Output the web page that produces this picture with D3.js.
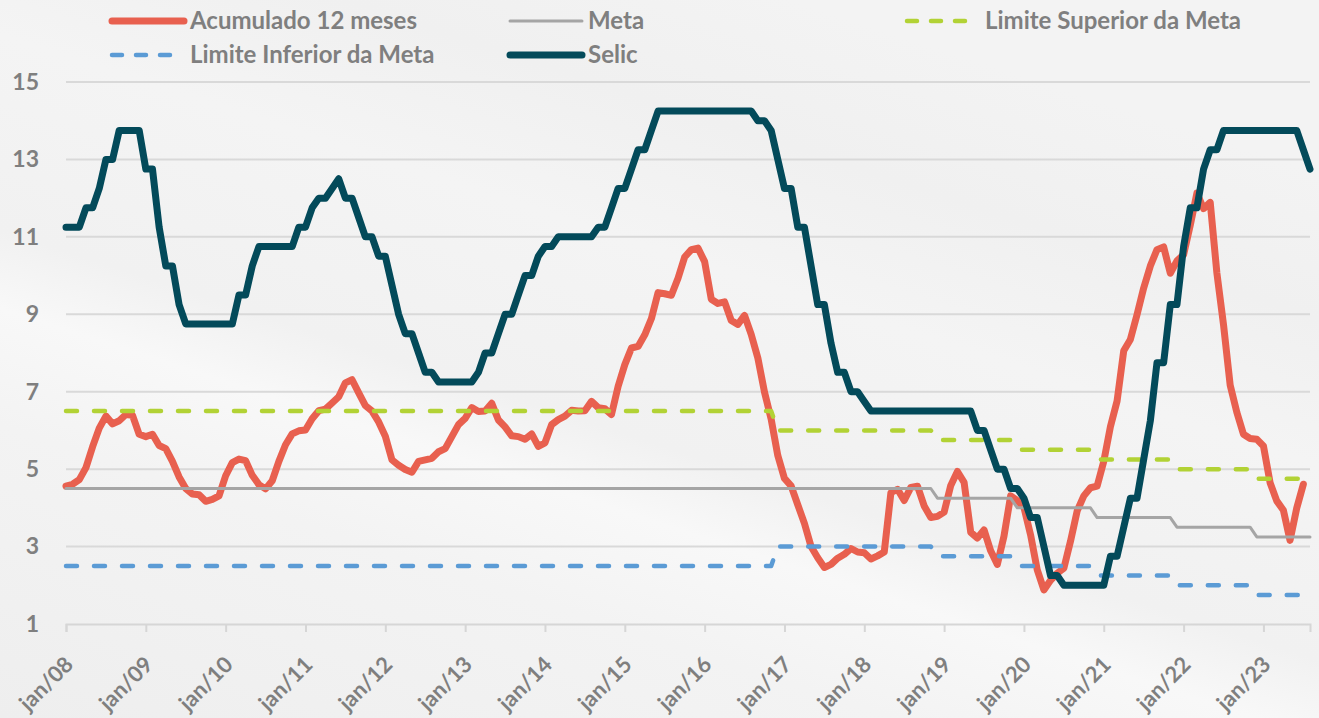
<!DOCTYPE html>
<html>
<head>
<meta charset="utf-8">
<script src="https://cdn.jsdelivr.net/npm/d3@7"></script>
<style>
  body { margin: 0; background: #f2f2f2; }
  svg { display: block; }
  text { font-family: Lato, "Open Sans", sans-serif; font-weight: 700; fill: #7f7f7f; }
</style>
</head>
<body>
<div id="chart"></div>
<script>
// x tick labels, one every 12 points
const tickLabels = ["jan/08","jan/09","jan/10","jan/11","jan/12","jan/13","jan/14","jan/15",
  "jan/16","jan/17","jan/18","jan/19","jan/20","jan/21","jan/22","jan/23"];
const yTicks = [1, 3, 5, 7, 9, 11, 13, 15];

// IPCA acumulado 12 meses (one row per 12 points on the axis)
const ipca12m = [
  4.56, 4.61, 4.73, 5.04, 5.58, 6.06, 6.37, 6.17, 6.25, 6.41, 6.39, 5.90,
  5.84, 5.90, 5.61, 5.53, 5.20, 4.80, 4.50, 4.36, 4.34, 4.17, 4.22, 4.31,
  4.83, 5.17, 5.26, 5.22, 4.84, 4.60, 4.49, 4.70, 5.20, 5.63, 5.91, 5.99,
  6.01, 6.30, 6.51, 6.55, 6.71, 6.87, 7.23, 7.31, 6.97, 6.64, 6.50, 6.22,
  5.85, 5.24, 5.10, 4.99, 4.92, 5.20, 5.24, 5.28, 5.45, 5.53, 5.84, 6.15,
  6.31, 6.59, 6.49, 6.50, 6.70, 6.27, 6.09, 5.86, 5.84, 5.77, 5.91, 5.59,
  5.68, 6.15, 6.28, 6.37, 6.52, 6.50, 6.51, 6.75, 6.59, 6.56, 6.41, 7.14,
  7.70, 8.13, 8.17, 8.47, 8.89, 9.56, 9.53, 9.49, 9.93, 10.48, 10.67, 10.71,
  10.36, 9.39, 9.28, 9.32, 8.84, 8.74, 8.97, 8.48, 7.87, 6.99, 6.29, 5.35,
  4.76, 4.57, 4.08, 3.60, 3.00, 2.71, 2.46, 2.54, 2.70, 2.80, 2.95, 2.86,
  2.84, 2.68, 2.76, 2.86, 4.39, 4.48, 4.19, 4.53, 4.56, 4.05, 3.75, 3.78,
  3.89, 4.58, 4.94, 4.66, 3.37, 3.22, 3.43, 2.89, 2.54, 3.27, 4.31, 4.19,
  4.01, 3.30, 2.40, 1.88, 2.13, 2.31, 2.44, 3.14, 3.92, 4.31, 4.52, 4.56,
  5.20, 6.10, 6.76, 8.06, 8.35, 8.99, 9.68, 10.25, 10.67, 10.74, 10.06, 10.38,
  10.54, 11.30, 12.13, 11.73, 11.89, 10.07, 8.73, 7.17, 6.47, 5.90, 5.79, 5.77,
  5.60, 4.65, 4.18, 3.94, 3.16, 3.99, 4.61
];

// Meta Selic
const selic = [
  11.25, 11.25, 11.25, 11.75, 11.75, 12.25, 13, 13, 13.75, 13.75, 13.75, 13.75,
  12.75, 12.75, 11.25, 10.25, 10.25, 9.25, 8.75, 8.75, 8.75, 8.75, 8.75, 8.75,
  8.75, 8.75, 9.5, 9.5, 10.25, 10.75, 10.75, 10.75, 10.75, 10.75, 10.75, 11.25,
  11.25, 11.75, 12, 12, 12.25, 12.5, 12, 12, 11.5, 11, 11, 10.5,
  10.5, 9.75, 9, 8.5, 8.5, 8, 7.5, 7.5, 7.25, 7.25, 7.25, 7.25,
  7.25, 7.25, 7.5, 8, 8, 8.5, 9, 9, 9.5, 10, 10, 10.5,
  10.75, 10.75, 11, 11, 11, 11, 11, 11, 11.25, 11.25, 11.75, 12.25,
  12.25, 12.75, 13.25, 13.25, 13.75, 14.25, 14.25, 14.25, 14.25, 14.25, 14.25, 14.25,
  14.25, 14.25, 14.25, 14.25, 14.25, 14.25, 14.25, 14.25, 14, 14, 13.75, 13,
  12.25, 12.25, 11.25, 11.25, 10.25, 9.25, 9.25, 8.25, 7.5, 7.5, 7, 7,
  6.75, 6.5, 6.5, 6.5, 6.5, 6.5, 6.5, 6.5, 6.5, 6.5, 6.5, 6.5,
  6.5, 6.5, 6.5, 6.5, 6.5, 6, 6, 5.5, 5, 5, 4.5, 4.5,
  4.25, 3.75, 3.75, 3, 2.25, 2.25, 2, 2, 2, 2, 2, 2,
  2, 2.75, 2.75, 3.5, 4.25, 4.25, 5.25, 6.25, 7.75, 7.75, 9.25, 9.25,
  10.75, 11.75, 11.75, 12.75, 13.25, 13.25, 13.75, 13.75, 13.75, 13.75, 13.75, 13.75,
  13.75, 13.75, 13.75, 13.75, 13.75, 13.75, 13.25, 12.75
];

// Meta de inflação e limites
const meta = [
  4.5, 4.5, 4.5, 4.5, 4.5, 4.5, 4.5, 4.5, 4.5, 4.5, 4.5, 4.5,
  4.5, 4.5, 4.5, 4.5, 4.5, 4.5, 4.5, 4.5, 4.5, 4.5, 4.5, 4.5,
  4.5, 4.5, 4.5, 4.5, 4.5, 4.5, 4.5, 4.5, 4.5, 4.5, 4.5, 4.5,
  4.5, 4.5, 4.5, 4.5, 4.5, 4.5, 4.5, 4.5, 4.5, 4.5, 4.5, 4.5,
  4.5, 4.5, 4.5, 4.5, 4.5, 4.5, 4.5, 4.5, 4.5, 4.5, 4.5, 4.5,
  4.5, 4.5, 4.5, 4.5, 4.5, 4.5, 4.5, 4.5, 4.5, 4.5, 4.5, 4.5,
  4.5, 4.5, 4.5, 4.5, 4.5, 4.5, 4.5, 4.5, 4.5, 4.5, 4.5, 4.5,
  4.5, 4.5, 4.5, 4.5, 4.5, 4.5, 4.5, 4.5, 4.5, 4.5, 4.5, 4.5,
  4.5, 4.5, 4.5, 4.5, 4.5, 4.5, 4.5, 4.5, 4.5, 4.5, 4.5, 4.5,
  4.5, 4.5, 4.5, 4.5, 4.5, 4.5, 4.5, 4.5, 4.5, 4.5, 4.5, 4.5,
  4.5, 4.5, 4.5, 4.5, 4.5, 4.5, 4.5, 4.5, 4.5, 4.5, 4.5, 4.25,
  4.25, 4.25, 4.25, 4.25, 4.25, 4.25, 4.25, 4.25, 4.25, 4.25, 4.25, 4,
  4, 4, 4, 4, 4, 4, 4, 4, 4, 4, 4, 3.75,
  3.75, 3.75, 3.75, 3.75, 3.75, 3.75, 3.75, 3.75, 3.75, 3.75, 3.75, 3.5,
  3.5, 3.5, 3.5, 3.5, 3.5, 3.5, 3.5, 3.5, 3.5, 3.5, 3.5, 3.25,
  3.25, 3.25, 3.25, 3.25, 3.25, 3.25, 3.25, 3.25
];
const limiteSuperior = [
  6.5, 6.5, 6.5, 6.5, 6.5, 6.5, 6.5, 6.5, 6.5, 6.5, 6.5, 6.5,
  6.5, 6.5, 6.5, 6.5, 6.5, 6.5, 6.5, 6.5, 6.5, 6.5, 6.5, 6.5,
  6.5, 6.5, 6.5, 6.5, 6.5, 6.5, 6.5, 6.5, 6.5, 6.5, 6.5, 6.5,
  6.5, 6.5, 6.5, 6.5, 6.5, 6.5, 6.5, 6.5, 6.5, 6.5, 6.5, 6.5,
  6.5, 6.5, 6.5, 6.5, 6.5, 6.5, 6.5, 6.5, 6.5, 6.5, 6.5, 6.5,
  6.5, 6.5, 6.5, 6.5, 6.5, 6.5, 6.5, 6.5, 6.5, 6.5, 6.5, 6.5,
  6.5, 6.5, 6.5, 6.5, 6.5, 6.5, 6.5, 6.5, 6.5, 6.5, 6.5, 6.5,
  6.5, 6.5, 6.5, 6.5, 6.5, 6.5, 6.5, 6.5, 6.5, 6.5, 6.5, 6.5,
  6.5, 6.5, 6.5, 6.5, 6.5, 6.5, 6.5, 6.5, 6.5, 6.5, 6.5, 6,
  6, 6, 6, 6, 6, 6, 6, 6, 6, 6, 6, 6,
  6, 6, 6, 6, 6, 6, 6, 6, 6, 6, 6, 5.75,
  5.75, 5.75, 5.75, 5.75, 5.75, 5.75, 5.75, 5.75, 5.75, 5.75, 5.75, 5.5,
  5.5, 5.5, 5.5, 5.5, 5.5, 5.5, 5.5, 5.5, 5.5, 5.5, 5.5, 5.25,
  5.25, 5.25, 5.25, 5.25, 5.25, 5.25, 5.25, 5.25, 5.25, 5.25, 5.25, 5,
  5, 5, 5, 5, 5, 5, 5, 5, 5, 5, 5, 4.75,
  4.75, 4.75, 4.75, 4.75, 4.75, 4.75, 4.75, 4.75
];
const limiteInferior = [
  2.5, 2.5, 2.5, 2.5, 2.5, 2.5, 2.5, 2.5, 2.5, 2.5, 2.5, 2.5,
  2.5, 2.5, 2.5, 2.5, 2.5, 2.5, 2.5, 2.5, 2.5, 2.5, 2.5, 2.5,
  2.5, 2.5, 2.5, 2.5, 2.5, 2.5, 2.5, 2.5, 2.5, 2.5, 2.5, 2.5,
  2.5, 2.5, 2.5, 2.5, 2.5, 2.5, 2.5, 2.5, 2.5, 2.5, 2.5, 2.5,
  2.5, 2.5, 2.5, 2.5, 2.5, 2.5, 2.5, 2.5, 2.5, 2.5, 2.5, 2.5,
  2.5, 2.5, 2.5, 2.5, 2.5, 2.5, 2.5, 2.5, 2.5, 2.5, 2.5, 2.5,
  2.5, 2.5, 2.5, 2.5, 2.5, 2.5, 2.5, 2.5, 2.5, 2.5, 2.5, 2.5,
  2.5, 2.5, 2.5, 2.5, 2.5, 2.5, 2.5, 2.5, 2.5, 2.5, 2.5, 2.5,
  2.5, 2.5, 2.5, 2.5, 2.5, 2.5, 2.5, 2.5, 2.5, 2.5, 2.5, 3,
  3, 3, 3, 3, 3, 3, 3, 3, 3, 3, 3, 3,
  3, 3, 3, 3, 3, 3, 3, 3, 3, 3, 3, 2.75,
  2.75, 2.75, 2.75, 2.75, 2.75, 2.75, 2.75, 2.75, 2.75, 2.75, 2.75, 2.5,
  2.5, 2.5, 2.5, 2.5, 2.5, 2.5, 2.5, 2.5, 2.5, 2.5, 2.5, 2.25,
  2.25, 2.25, 2.25, 2.25, 2.25, 2.25, 2.25, 2.25, 2.25, 2.25, 2.25, 2,
  2, 2, 2, 2, 2, 2, 2, 2, 2, 2, 2, 1.75,
  1.75, 1.75, 1.75, 1.75, 1.75, 1.75, 1.75, 1.75
];

const width = 1319;
const height = 718;
const plotLeft = 66, plotRight = 1310, plotTop = 82, plotBottom = 624;

const svg = d3.select("#chart")
  .append("svg")
  .attr("width", width)
  .attr("height", height);

// soft textured background
const defs = svg.append("defs");
const bg = defs.append("linearGradient")
  .attr("id", "bg")
  .attr("x1", "0%").attr("y1", "100%")
  .attr("x2", "60%").attr("y2", "0%");
[["0%", "#eeeeee"], ["30%", "#f3f3f3"], ["42%", "#f8f8f8"], ["50%", "#f1f1f1"],
 ["70%", "#f4f4f4"], ["85%", "#f0f0f0"], ["100%", "#f3f3f3"]]
  .forEach(s => bg.append("stop").attr("offset", s[0]).attr("stop-color", s[1]));
svg.append("rect")
  .attr("width", width)
  .attr("height", height)
  .attr("fill", "url(#bg)");

const x = d3.scaleLinear().domain([0, selic.length - 1]).range([plotLeft, plotRight]);
const y = d3.scaleLinear().domain([1, 15]).range([plotBottom, plotTop]);

// gridlines
svg.append("g")
  .selectAll("line")
  .data(yTicks.slice(1))
  .join("line")
    .attr("x1", plotLeft)
    .attr("x2", plotRight)
    .attr("y1", d => y(d))
    .attr("y2", d => y(d))
    .attr("stroke", "#d9d9d9")
    .attr("stroke-width", 2);

// y labels
const yAxis = svg.append("g")
  .attr("transform", `translate(${plotLeft}, 0)`)
  .call(d3.axisLeft(y).tickValues(yTicks).tickSize(0).tickPadding(27));
yAxis.select(".domain").remove();
yAxis.selectAll("text")
  .style("font-size", "23px")
  .attr("fill", "#7f7f7f");

// x axis
const tickIdx = tickLabels.map((d, i) => i * 12);
const xAxis = svg.append("g")
  .attr("transform", `translate(0, ${plotBottom})`)
  .call(d3.axisBottom(x)
    .tickValues(tickIdx)
    .tickSize(8)
    .tickFormat((d, i) => tickLabels[i]));
xAxis.select(".domain")
  .attr("stroke", "#d6d6d6")
  .attr("stroke-width", 2);
xAxis.selectAll(".tick line")
  .attr("stroke", "#d6d6d6")
  .attr("stroke-width", 2);
xAxis.selectAll(".tick text")
  .attr("fill", "#7f7f7f")
  .style("font-size", "22px")
  .attr("text-anchor", "end")
  .attr("dy", 0)
  .attr("y", 0)
  .attr("transform", "translate(8, 42) rotate(-45)");

const series = [
  { name: "Acumulado 12 meses", values: ipca12m, color: "#e8604f", width: 7 },
  { name: "Meta", values: meta, color: "#a5a5a5", width: 3 },
  { name: "Limite Superior da Meta", values: limiteSuperior, color: "#b2d235", width: 4.5, dash: "11,17" },
  { name: "Limite Inferior da Meta", values: limiteInferior, color: "#5b9bd5", width: 4.5, dash: "11,17" },
  { name: "Selic", values: selic, color: "#034a5a", width: 7 }
];

const line = d3.line()
  .x((d, i) => x(i))
  .y(d => y(d));

svg.append("g")
  .selectAll("path")
  .data(series)
  .join("path")
    .attr("d", d => line(d.values))
    .attr("fill", "none")
    .attr("stroke", d => d.color)
    .attr("stroke-width", d => d.width)
    .attr("stroke-dasharray", d => d.dash || null)
    .attr("stroke-linejoin", "round")
    .attr("stroke-linecap", "round");

// legend: three items per row
const legendCols = [112, 510, 907];
const legendRows = [21, 55];
const legend = svg.append("g")
  .selectAll("g")
  .data(series)
  .join("g")
    .attr("transform", (d, i) => `translate(${legendCols[i % 3]}, ${legendRows[Math.floor(i / 3)]})`);

legend.append("line")
  .attr("x1", 0)
  .attr("x2", 72)
  .attr("stroke", d => d.color)
  .attr("stroke-width", d => d.width)
  .attr("stroke-dasharray", d => d.dash ? "10,14" : null)
  .attr("stroke-linecap", "round");

legend.append("text")
  .attr("x", 78)
  .attr("dy", "0.35em")
  .style("font-size", "24px")
  .text(d => d.name);
</script>
</body>
</html>
